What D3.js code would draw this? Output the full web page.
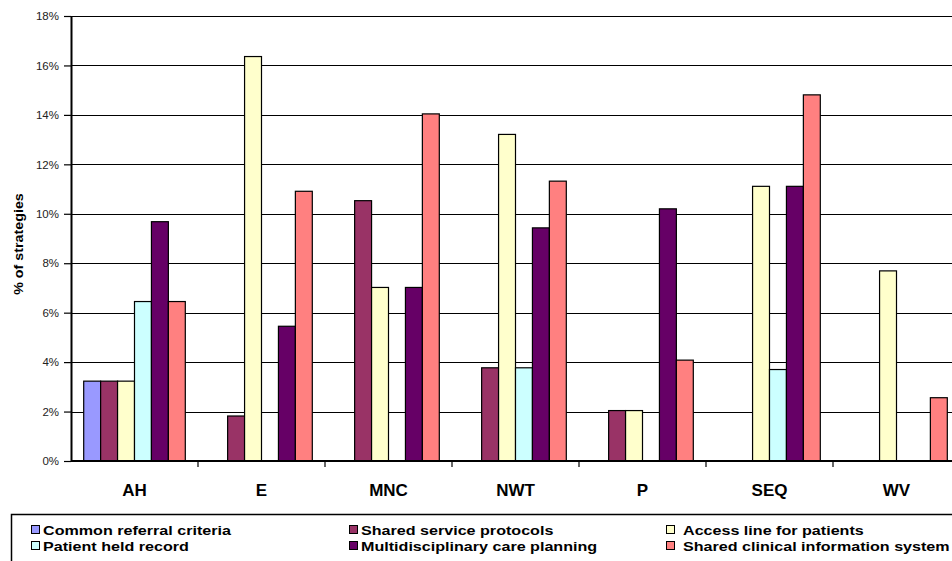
<!DOCTYPE html>
<html>
<head>
<meta charset="utf-8">
<script src="https://cdn.jsdelivr.net/npm/d3@7"></script>
<style>
  html, body { margin: 0; padding: 0; background: #fff; overflow: hidden; }
  svg { display: block; font-family: "Liberation Sans", Arial, sans-serif; }
</style>
</head>
<body>
<svg id="chart" width="952" height="561"></svg>
<script>
// Regions (x categories)
const regions = ["AH", "E", "MNC", "NWT", "P", "SEQ", "WV"];

// Strategy series, share of strategies in each region (%)
const seriesNames = [
  "Common referral criteria",
  "Shared service protocols",
  "Access line for patients",
  "Patient held record",
  "Multidisciplinary care planning",
  "Shared clinical information system"
];
const commonReferral   = [3.23, 0,     0,     0,    0,    0,    0];
const sharedProtocols  = [3.23, 1.82, 10.53, 3.77, 2.04, 0,    0];
const accessLine       = [3.23, 16.36, 7.02, 13.21, 2.04, 11.11, 7.69];
const patientRecord    = [6.45, 0,     0,    3.77, 0,    3.70, 0];
const careplanning     = [9.68, 5.45,  7.02, 9.43, 10.20, 11.11, 0];
const sharedClinical   = [6.45, 10.91, 14.04, 11.32, 4.08, 14.81, 2.56];

const seriesColors = ["#9999FF", "#993366", "#FFFFCC", "#CCFFFF", "#660066", "#FF8080"];
const yTicks = [0, 2, 4, 6, 8, 10, 12, 14, 16, 18];

const allSeries = [commonReferral, sharedProtocols, accessLine, patientRecord, careplanning, sharedClinical];

const svg = d3.select("#chart");

// Plot area runs past the right edge of the page
const plotLeft = 71, plotRight = 960, plotTop = 16, plotBottom = 461;

const x = d3.scaleBand().domain(regions).range([plotLeft, plotRight]).paddingInner(0).paddingOuter(0);
const inner = d3.scaleBand().domain(d3.range(seriesNames.length))
  .range([0, x.bandwidth()]).paddingInner(0).paddingOuter(0.75);
const y = d3.scaleLinear().domain([0, 18]).range([plotBottom, plotTop]);

// Horizontal gridlines
svg.append("g")
  .selectAll("line")
  .data(yTicks.filter(d => d > 0))
  .join("line")
  .attr("x1", plotLeft).attr("x2", plotRight)
  .attr("y1", d => Math.round(y(d)) + 0.5).attr("y2", d => Math.round(y(d)) + 0.5)
  .attr("stroke", "#000").attr("stroke-width", 1.1);

// Bars
const groups = svg.append("g")
  .selectAll("g")
  .data(regions)
  .join("g")
  .attr("transform", d => `translate(${x(d)},0)`);

groups.selectAll("rect")
  .data((d, i) => allSeries.map((s, k) => ({ k, v: s[i] })).filter(e => e.v > 0))
  .join("rect")
  .attr("x", e => inner(e.k))
  .attr("width", inner.bandwidth())
  .attr("y", e => y(e.v))
  .attr("height", e => y(0) - y(e.v))
  .attr("fill", e => seriesColors[e.k])
  .attr("stroke", "#000")
  .attr("stroke-width", 1.2);

// Y axis
const yAxis = d3.axisLeft(y).tickValues(yTicks).tickFormat(d => d + "%")
  .tickSize(7).tickSizeOuter(0).tickPadding(5);
const yg = svg.append("g").attr("transform", `translate(${plotLeft},0)`).call(yAxis);
yg.select(".domain").attr("stroke", "#000").attr("stroke-width", 2);
yg.selectAll(".tick line").attr("stroke", "#000").attr("stroke-width", 1.2);
yg.selectAll(".tick text").attr("font-size", 11.5).attr("fill", "#222")
  .attr("font-family", "'Liberation Sans', Arial, sans-serif");

// X axis with boundary ticks
svg.append("line")
  .attr("x1", plotLeft).attr("x2", plotRight)
  .attr("y1", plotBottom).attr("y2", plotBottom)
  .attr("stroke", "#000").attr("stroke-width", 2);
svg.append("g")
  .selectAll("line")
  .data(regions)
  .join("line")
  .attr("x1", d => x(d) + x.bandwidth())
  .attr("x2", d => x(d) + x.bandwidth())
  .attr("y1", plotBottom).attr("y2", plotBottom + 6)
  .attr("stroke", "#000").attr("stroke-width", 1.2);

svg.append("g")
  .selectAll("text")
  .data(regions)
  .join("text")
  .attr("x", d => x(d) + x.bandwidth() / 2)
  .attr("y", 496)
  .attr("text-anchor", "middle")
  .attr("font-size", 17)
  .attr("font-weight", "bold")
  .attr("fill", "#000")
  .text(d => d);

// Y axis title
svg.append("text")
  .attr("transform", "translate(23,244) rotate(-90) scale(1.1,1)")
  .attr("text-anchor", "middle")
  .attr("font-size", 13)
  .attr("font-weight", "bold")
  .attr("fill", "#000")
  .text("% of strategies");

// Legend
const legend = svg.append("g");
legend.append("rect")
  .attr("x", 11.5).attr("y", 514.5)
  .attr("width", 960).attr("height", 60)
  .attr("fill", "#fff").attr("stroke", "#000").attr("stroke-width", 1.5);

const colX = [31, 349, 666];
const textX = [43, 361, 679];
const rowY = [530, 546];
const items = legend.selectAll("g.item")
  .data(seriesNames)
  .join("g")
  .attr("class", "item");
items.append("rect")
  .attr("x", (d, i) => colX[i % 3] + 0.5)
  .attr("y", (d, i) => rowY[Math.floor(i / 3)] - 4.5)
  .attr("width", 8).attr("height", 8)
  .attr("fill", (d, i) => seriesColors[i])
  .attr("stroke", "#000").attr("stroke-width", 1);
items.append("text")
  .attr("transform", (d, i) =>
    `translate(${textX[i % 3] + (i % 3 === 2 ? 4 : 0)},${rowY[Math.floor(i / 3)] + 4.5}) scale(1.24,1)`)
  .attr("font-size", 13)
  .attr("font-weight", "bold")
  .attr("fill", "#000")
  .text(d => d);
</script>
</body>
</html>
